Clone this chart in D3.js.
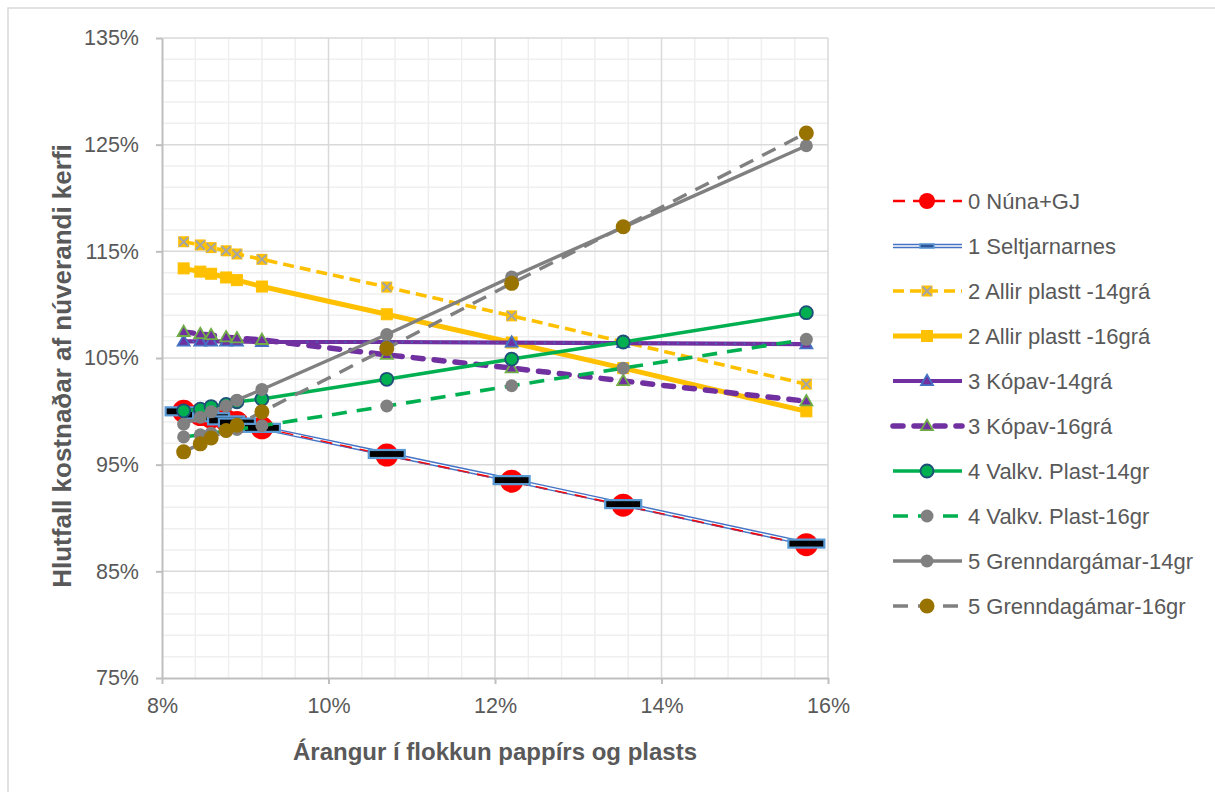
<!DOCTYPE html>
<html>
<head>
<meta charset="utf-8">
<script src="https://cdn.jsdelivr.net/npm/d3@7"></script>
<style>
  html, body { margin: 0; padding: 0; background: #fff; }
  svg { display: block; font-family: "Liberation Sans", Arial, sans-serif; }
</style>
</head>
<body>
<svg id="chart" width="1215" height="792"></svg>
<script>
// ---------- DATA ----------
const xValues = [8.26, 8.46, 8.59, 8.77, 8.90, 9.20, 10.70, 12.20, 13.54, 15.74];
const seriesNames = [
  "0 Núna+GJ", "1 Seltjarnarnes", "2 Allir plastt -14grá", "2 Allir plastt -16grá",
  "3 Kópav-14grá", "3 Kópav-16grá", "4 Valkv. Plast-14gr", "4 Valkv. Plast-16gr",
  "5 Grenndargámar-14gr", "5 Grenndagámar-16gr"
];
const nunaGJ        = [100.0, 99.7, 99.45, 99.15, 98.95, 98.45, 95.9, 93.45, 91.2, 87.5];
const seltjarnarnes = [100.0, 99.7, 99.45, 99.15, 98.95, 98.45, 96.0, 93.55, 91.3, 87.6];
const allir14       = [115.9, 115.6, 115.35, 115.05, 114.75, 114.25, 111.65, 108.95, 106.5, 102.55];
const allir16       = [113.4, 113.1, 112.9, 112.55, 112.3, 111.7, 109.1, 106.45, 104.05, 100.0];
const kopav14       = [106.55, 106.55, 106.55, 106.55, 106.55, 106.5, 106.5, 106.45, 106.4, 106.3];
const kopav16       = [107.45, 107.25, 107.15, 106.95, 106.85, 106.7, 105.3, 104.05, 102.85, 100.95];
const valkv14       = [100.05, 100.2, 100.45, 100.65, 100.9, 101.15, 103.0, 104.9, 106.5, 109.25];
const valkv16       = [97.6, 97.8, 97.95, 98.15, 98.3, 98.65, 100.5, 102.4, 104.05, 106.75];
const grenndar14    = [98.8, 99.45, 99.95, 100.5, 101.05, 102.05, 107.2, 112.6, 117.25, 124.9];
const grennda16     = [96.2, 96.95, 97.5, 98.2, 98.7, 99.95, 105.9, 112.0, 117.3, 126.1];
const seriesValues = [nunaGJ, seltjarnarnes, allir14, allir16, kopav14, kopav16, valkv14, valkv16, grenndar14, grennda16];

const xTickValues = [8, 10, 12, 14, 16];
const xTickLabels = ["8%", "10%", "12%", "14%", "16%"];
const yTickValues = [75, 85, 95, 105, 115, 125, 135];
const yTickLabels = ["75%", "85%", "95%", "105%", "115%", "125%", "135%"];
const xTitle = "Árangur í flokkun pappírs og plasts";
const yTitle = "Hlutfall kostnaðar af núverandi kerfi";

// ---------- STYLES ----------
const styles = [
  { line: "#FF0000", w: 2.5, dash: "12,8", marker: "circle", r: 11.5, fill: "#FF0000", stroke: "none", lr: 8 },
  { line: "#4472C4", w: 4.5, double: true, marker: "bar", fill: "#000000", stroke: "#5B9BD5" },
  { line: "#FFC000", w: 3.6, dash: "11,6", marker: "x", size: 11, fill: "#FFC000", stroke: "#A5A5A5" },
  { line: "#FFC000", w: 5, marker: "square", size: 11, fill: "#FFC000", stroke: "#FFC000" },
  { line: "#7030A0", w: 4.2, dots: "#4472C4", marker: "triangle", size: 12, fill: "#7030A0", stroke: "#4472C4" },
  { line: "#7030A0", w: 5.5, dash: "10,11", cap: "round", marker: "triangle", size: 12, fill: "#7030A0", stroke: "#70AD47" },
  { line: "#00B050", w: 3.6, marker: "circle", r: 6.5, fill: "#00B050", stroke: "#1F4E79", sw: 1.8 },
  { line: "#00B050", w: 3.6, dash: "15,10", marker: "circle", r: 6.5, fill: "#808080", stroke: "none" },
  { line: "#808080", w: 3.4, marker: "circle", r: 6.5, fill: "#808080", stroke: "none" },
  { line: "#808080", w: 3.4, dash: "15,10", marker: "circle", r: 7.5, fill: "#997300", stroke: "none" }
];

// ---------- LAYOUT ----------
const svg = d3.select("#chart");
const plot = { left: 162, right: 828, top: 38, bottom: 678 };
const x = d3.scaleLinear().domain([8, 16]).range([plot.left, plot.right]);
const y = d3.scaleLinear().domain([75, 135]).range([plot.bottom, plot.top]);
const textColor = "#595959";

svg.append("rect").attr("width", 1215).attr("height", 792).attr("fill", "#fff");
// outer chart border (left & top visible)
svg.append("path").attr("d", "M8,792 V8 H1215").attr("fill", "none").attr("stroke", "#D9D9D9").attr("stroke-width", 1.5);

// minor gridlines
const g = svg.append("g");
const xMinor = d3.range(8, 16.001, 0.4).filter(v => Math.abs(v / 2 - Math.round(v / 2)) > 1e-6);
const yMinor = d3.range(75, 135.001, 2).filter(v => (Math.round(v) - 75) % 10 !== 0);
g.selectAll(".xminor").data(xMinor).enter().append("line")
  .attr("x1", d => x(d)).attr("x2", d => x(d)).attr("y1", plot.top).attr("y2", plot.bottom)
  .attr("stroke", "#EFEFEF").attr("stroke-width", 1.5);
g.selectAll(".yminor").data(yMinor).enter().append("line")
  .attr("x1", plot.left).attr("x2", plot.right).attr("y1", d => y(d)).attr("y2", d => y(d))
  .attr("stroke", "#EFEFEF").attr("stroke-width", 1.5);
// major gridlines
g.selectAll(".xmajor").data(xTickValues.slice(1)).enter().append("line")
  .attr("x1", d => x(d)).attr("x2", d => x(d)).attr("y1", plot.top).attr("y2", plot.bottom)
  .attr("stroke", "#D9D9D9").attr("stroke-width", 1.5);
g.selectAll(".ymajor").data(yTickValues.slice(1)).enter().append("line")
  .attr("x1", plot.left).attr("x2", plot.right).attr("y1", d => y(d)).attr("y2", d => y(d))
  .attr("stroke", "#D9D9D9").attr("stroke-width", 1.5);

// axes
const xAxis = d3.axisBottom(x).tickValues(xTickValues).tickFormat((d, i) => xTickLabels[i]).tickSizeInner(6).tickSizeOuter(0).tickPadding(14);
const yAxis = d3.axisLeft(y).tickValues(yTickValues).tickFormat((d, i) => yTickLabels[i]).tickSizeInner(6).tickSizeOuter(0).tickPadding(17);
const gx = svg.append("g").attr("transform", `translate(0,${plot.bottom})`).call(xAxis);
const gy = svg.append("g").attr("transform", `translate(${plot.left},0)`).call(yAxis);
[gx, gy].forEach(a => {
  a.select(".domain").attr("stroke", "#BFBFBF").attr("stroke-width", 2);
  a.selectAll(".tick line").attr("stroke", "#BFBFBF").attr("stroke-width", 2);
  a.selectAll(".tick text").attr("fill", textColor).attr("font-size", 21.5)
    .attr("font-family", "'Liberation Sans', Arial, sans-serif");
});

// axis titles
svg.append("text").attr("x", (plot.left + plot.right) / 2).attr("y", 760)
  .attr("text-anchor", "middle").attr("font-size", 24).attr("font-weight", "bold")
  .attr("fill", textColor).text(xTitle);
svg.append("text").attr("transform", `translate(71,${(plot.top + plot.bottom) / 2 + 8}) rotate(-90)`)
  .attr("text-anchor", "middle").attr("font-size", 26).attr("font-weight", "bold")
  .attr("fill", textColor).text(yTitle);

// ---------- MARKERS ----------
function drawMarker(sel, st, cx, cy, legend) {
  const m = st.marker;
  if (m === "circle") {
    const r = legend && st.lr ? st.lr : st.r;
    sel.append("circle").attr("cx", cx).attr("cy", cy).attr("r", r)
      .attr("fill", st.fill).attr("stroke", st.stroke).attr("stroke-width", st.sw || 1.5);
  } else if (m === "bar") {
    const w = legend ? 14 : 36, h = legend ? 4 : 8;
    sel.append("rect").attr("x", cx - w / 2).attr("y", cy - h / 2).attr("width", w).attr("height", h)
      .attr("fill", legend ? "#2F5597" : st.fill).attr("stroke", st.stroke).attr("stroke-width", legend ? 1.5 : 2.2);
  } else if (m === "square") {
    const s = st.size;
    sel.append("rect").attr("x", cx - s / 2).attr("y", cy - s / 2).attr("width", s).attr("height", s)
      .attr("fill", st.fill).attr("stroke", st.stroke).attr("stroke-width", 1);
  } else if (m === "x") {
    const s = st.size, h = s / 2 - 1;
    sel.append("rect").attr("x", cx - s / 2).attr("y", cy - s / 2).attr("width", s).attr("height", s)
      .attr("fill", st.fill);
    sel.append("path").attr("d", `M${cx - h},${cy - h}L${cx + h},${cy + h}M${cx - h},${cy + h}L${cx + h},${cy - h}`)
      .attr("stroke", st.stroke).attr("stroke-width", 2).attr("fill", "none");
  } else if (m === "triangle") {
    const s = st.size, hh = s * 0.866;
    sel.append("path").attr("d", `M${cx},${cy - hh * 0.6}L${cx + s / 2},${cy + hh * 0.4}L${cx - s / 2},${cy + hh * 0.4}Z`)
      .attr("fill", st.fill).attr("stroke", st.stroke).attr("stroke-width", 1.8);
  }
}

function styleLine(path, st) {
  path.attr("fill", "none").attr("stroke", st.line).attr("stroke-width", st.w)
    .attr("stroke-linejoin", "round").attr("stroke-linecap", st.cap || "butt");
  if (st.dash) path.attr("stroke-dasharray", st.dash);
  return path;
}

// ---------- SERIES ----------
const line = d3.line().x(d => x(d[0])).y(d => y(d[1]));
const seriesLayer = svg.append("g");
seriesValues.forEach((vals, i) => {
  const st = styles[i];
  const pts = xValues.map((xv, j) => [xv, vals[j]]);
  const gs = seriesLayer.append("g");
  if (st.double) {
    styleLine(gs.append("path").attr("d", line(pts)), st);
    gs.append("path").attr("d", line(pts)).attr("fill", "none").attr("stroke", "#fff").attr("stroke-width", 1.6);
    // red dashes show through the transparent gap of the compound line
    const prev = styles[0];
    gs.append("path").attr("d", line(xValues.map((xv, j) => [xv, seriesValues[0][j]])))
      .attr("fill", "none").attr("stroke", prev.line).attr("stroke-width", 1.4).attr("stroke-dasharray", prev.dash);
  } else {
    styleLine(gs.append("path").attr("d", line(pts)), st);
    if (st.dots) {
      gs.append("path").attr("d", line(pts)).attr("fill", "none").attr("stroke", st.dots)
        .attr("stroke-width", 1.6).attr("stroke-linecap", "round").attr("stroke-dasharray", "0.5,9");
    }
  }
  pts.forEach(p => drawMarker(gs, st, x(p[0]), y(p[1]), false));
});

// ---------- LEGEND ----------
const legend = svg.append("g");
const lx0 = 893, lx1 = 962, lmx = 927, ly0 = 201, lstep = 45;
seriesNames.forEach((name, i) => {
  const st = styles[i];
  const cy = ly0 + i * lstep;
  const gl = legend.append("g");
  const p = gl.append("path").attr("d", `M${lx0},${cy}H${lx1}`);
  styleLine(p, st);
  if (st.double) {
    gl.append("path").attr("d", `M${lx0},${cy}H${lx1}`).attr("stroke", "#fff").attr("stroke-width", 1.6);
  }
  drawMarker(gl, st, lmx, cy, true);
  gl.append("text").attr("x", 968).attr("y", cy).attr("dy", "0.36em")
    .attr("font-size", 22).attr("fill", textColor).text(name);
});
</script>
</body>
</html>
